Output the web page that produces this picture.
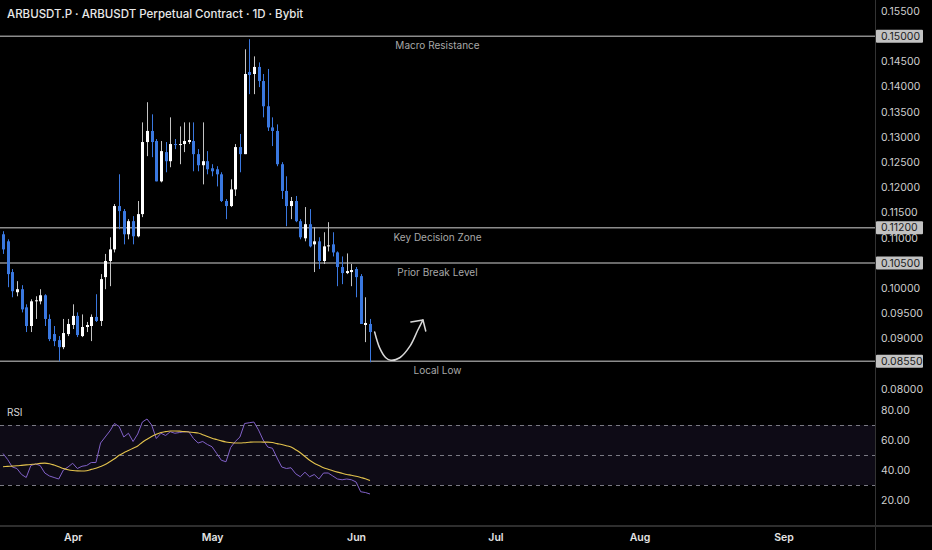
<!DOCTYPE html>
<html>
<head>
<meta charset="utf-8">
<script src="https://cdn.jsdelivr.net/npm/d3@7"></script>
<style>
  html, body { margin: 0; padding: 0; background: #000; }
  svg { display: block; font-family: Inter, "Noto Sans", sans-serif; }
</style>
</head>
<body>
<svg id="chart"></svg>
<script>
const title = "ARBUSDT.P · ARBUSDT Perpetual Contract · 1D · Bybit";

// daily candles, first one on 17 Mar
const firstDay = Date.UTC(2025, 2, 17);

const open = [0.1107,0.1093,0.1032,0.0992,0.0998,0.0962,0.0925,0.0974,0.0974,0.0986,
  0.0939,0.0909,0.0897,0.0883,0.0909,0.0927,0.0945,0.0905,0.0923,0.0925,
  0.0943,0.0935,0.1022,0.1054,0.1077,0.1163,0.1153,0.1107,0.1133,0.1103,
  0.1147,0.1290,0.1312,0.1292,0.1212,0.1270,0.1252,0.1286,0.1284,0.1286,
  0.1290,0.1292,0.1266,0.1244,0.1252,0.1238,0.1236,0.1226,0.1173,0.1163,
  0.1196,0.1280,0.1266,0.1429,0.1425,0.1439,0.1411,0.1361,0.1319,0.1312,
  0.1246,0.1193,0.1163,0.1173,0.1133,0.1099,0.1127,0.1087,0.1093,0.1054,
  0.1083,0.1087,0.1071,0.1042,0.1030,0.1032,0.1038,0.1024,0.0927,0.0929];

const high = [0.1113,0.1097,0.1038,0.1014,0.1006,0.0968,0.0978,0.0984,0.0998,0.0988,
  0.0948,0.0925,0.0905,0.0939,0.0939,0.0968,0.0952,0.0948,0.0933,0.0948,
  0.0988,0.1028,0.1068,0.1101,0.1167,0.1226,0.1157,0.1137,0.1143,0.1173,
  0.1329,0.1369,0.1345,0.1296,0.1292,0.1290,0.1339,0.1296,0.1321,0.1329,
  0.1329,0.1329,0.1276,0.1329,0.1272,0.1246,0.1242,0.1230,0.1177,0.1216,
  0.1286,0.1306,0.1474,0.1494,0.1460,0.1448,0.1425,0.1435,0.1339,0.1325,
  0.1250,0.1222,0.1181,0.1183,0.1137,0.1161,0.1157,0.1121,0.1101,0.1111,
  0.1131,0.1111,0.1073,0.1063,0.1069,0.1048,0.1042,0.1028,0.0982,0.0939];

const low = [0.1068,0.1002,0.0982,0.0984,0.0952,0.0913,0.0913,0.0939,0.0968,0.0925,
  0.0895,0.0885,0.0855,0.0879,0.0905,0.0919,0.0903,0.0903,0.0913,0.0895,
  0.0933,0.0925,0.0998,0.1004,0.1071,0.1117,0.1087,0.1097,0.1087,0.1101,
  0.1141,0.1262,0.1260,0.1212,0.1210,0.1230,0.1240,0.1276,0.1246,0.1270,
  0.1286,0.1232,0.1232,0.1206,0.1226,0.1222,0.1202,0.1171,0.1137,0.1161,
  0.1183,0.1230,0.1266,0.1385,0.1385,0.1399,0.1339,0.1312,0.1282,0.1242,
  0.1177,0.1123,0.1137,0.1131,0.1097,0.1093,0.1081,0.1032,0.1038,0.1048,
  0.1073,0.1063,0.1004,0.1008,0.1028,0.1004,0.0982,0.0929,0.0893,0.0853];

const close = [0.1077,0.1028,0.0994,0.0998,0.0958,0.0925,0.0974,0.0976,0.0986,0.0939,
  0.0899,0.0895,0.0883,0.0911,0.0929,0.0945,0.0907,0.0923,0.0927,0.0943,
  0.0935,0.1018,0.1054,0.1077,0.1163,0.1153,0.1107,0.1133,0.1103,0.1147,
  0.1290,0.1312,0.1290,0.1212,0.1272,0.1252,0.1286,0.1284,0.1286,0.1292,
  0.1294,0.1266,0.1244,0.1252,0.1236,0.1232,0.1226,0.1173,0.1163,0.1196,
  0.1280,0.1266,0.1425,0.1423,0.1439,0.1411,0.1361,0.1319,0.1312,0.1246,
  0.1193,0.1163,0.1173,0.1133,0.1101,0.1127,0.1083,0.1093,0.1054,0.1083,
  0.1085,0.1071,0.1042,0.1030,0.1034,0.1036,0.1022,0.0929,0.0931,0.0913];

const rsi = [51,47,42,41,37,35,43,44,43,38,
  36,35,34,40,42,44.5,41,42.5,43,45,
  45,58,62,66,71,69,62,64.5,59,64,
  72,74,70,61,64.5,63,65.5,64.5,65,65.5,
  65.5,61,58,59,57,55.5,51,46.5,45.5,55,
  59,62,71,71.5,72,66.7,60,55.3,54.5,48,
  42,41,41.5,37.5,35.5,38.5,35.5,37,34,38,
  38,36,34,33.5,34,33.5,32,25.5,25,24];

const rsiMa = [42.2,42.4,42.6,42.8,43.1,43.4,43.7,44.0,44.4,44.6,
  44.2,43.3,42.2,41.0,40.2,39.7,39.4,39.3,39.5,40.4,
  41.2,42.3,43.6,45.5,47.5,49.8,51.5,53.0,54.5,56.0,
  58.5,60.5,62.3,63.8,65.0,65.6,66.0,66.0,65.9,65.6,
  65.3,65.0,64.7,63.5,62.3,61.2,60.3,59.4,58.7,58.3,
  58.0,58.0,58.2,58.5,58.7,58.7,58.6,58.6,58.3,57.6,
  57.0,56.2,55.3,53.5,51.5,49.0,46.5,44.5,43.0,41.5,
  40.5,39.5,38.6,37.8,37.0,36.5,35.8,35.0,34.2,33.0];

const levels = [0.15, 0.112, 0.105, 0.0855];
const levelNames = ["Macro Resistance", "Key Decision Zone", "Prior Break Level", "Local Low"];

const priceTicks = [0.08, 0.09, 0.095, 0.10, 0.11, 0.115, 0.12, 0.125, 0.13, 0.135, 0.14, 0.145, 0.155];
const rsiTicks = [20, 40, 60, 80];
const rsiBands = [70, 50, 30];

// hand-drawn bounce arrow, in days since first candle and price
const arrowDays = [80.0, 81.1, 82.4, 83.5, 85.4, 87.6, 89.3, 90.4];
const arrowPrices = [0.0913, 0.0881, 0.0862, 0.0857, 0.0862, 0.0885, 0.0917, 0.0937];
const arrowHeadDays = [87.8, 90.4, 91.0];
const arrowHeadPrices = [0.0933, 0.0937, 0.0915];

const width = 932;
const height = 550;
const plotRight = 875;

const blue = "#3a78e0";
const white = "#ffffff";
const levelGray = "#8c8c8c";

const dayMs = 864e5;
const dates = d3.range(open.length).map(i => new Date(firstDay + i * dayMs));
const candles = dates.map((date, i) => ({
  date,
  open: open[i],
  high: high[i],
  low: low[i],
  close: close[i],
  rsi: rsi[i],
  ma: rsiMa[i]
}));

const x = d3
  .scaleUtc()
  .domain([dates[0], dates[dates.length - 1]])
  .range([3, 370]);

const y = d3
  .scaleLinear()
  .domain([0.08, 0.155])
  .range([389, 11]);

const yRsi = d3
  .scaleLinear()
  .domain([20, 80])
  .range([500, 410]);

const svg = d3
  .select("#chart")
  .attr("width", width)
  .attr("height", height)
  .style("background", "#000");

// title
svg
  .append("text")
  .attr("x", 7)
  .attr("y", 18)
  .attr("fill", "#e8e8e8")
  .attr("font-size", "11.5px")
  .attr("font-weight", 500)
  .text(title);

// ---- price pane
const levelLayer = svg.append("g").attr("class", "levels");

levelLayer
  .selectAll("line")
  .data(levels)
  .join("line")
  .attr("x1", 0)
  .attr("x2", plotRight)
  .attr("y1", d => y(d))
  .attr("y2", d => y(d))
  .attr("stroke", levelGray)
  .attr("stroke-width", 1.6);

levelLayer
  .selectAll("text")
  .data(levels)
  .join("text")
  .attr("x", plotRight / 2)
  .attr("y", d => y(d) + 13)
  .attr("text-anchor", "middle")
  .attr("fill", "#a8a8a8")
  .attr("font-size", "10px")
  .text((d, i) => levelNames[i]);

const candleLayer = svg.append("g").attr("class", "candles");
const up = d => d.close >= d.open;

candleLayer
  .selectAll("line")
  .data(candles)
  .join("line")
  .attr("x1", d => Math.round(x(d.date)) + 0.5)
  .attr("x2", d => Math.round(x(d.date)) + 0.5)
  .attr("y1", d => y(d.high))
  .attr("y2", d => y(d.low))
  .attr("stroke", d => (up(d) ? "#c4c4c4" : blue))
  .attr("stroke-width", 1);

candleLayer
  .selectAll("rect")
  .data(candles)
  .join("rect")
  .attr("x", d => Math.round(x(d.date)) - 1)
  .attr("width", 3)
  .attr("y", d => y(Math.max(d.open, d.close)))
  .attr("height", d => Math.max(1, Math.abs(y(d.open) - y(d.close))))
  .attr("fill", d => (up(d) ? white : blue));

// bounce arrow
const dayToDate = day => new Date(firstDay + day * dayMs);
const arrowLine = d3
  .line()
  .x(d => x(dayToDate(d[0])))
  .y(d => y(d[1]))
  .curve(d3.curveCatmullRom);

svg
  .append("path")
  .attr("d", arrowLine(d3.zip(arrowDays, arrowPrices)))
  .attr("fill", "none")
  .attr("stroke", "#d8d8d8")
  .attr("stroke-width", 1.5)
  .attr("stroke-linecap", "round");

svg
  .append("path")
  .attr("d", arrowLine.curve(d3.curveLinear)(d3.zip(arrowHeadDays, arrowHeadPrices)))
  .attr("fill", "none")
  .attr("stroke", "#d8d8d8")
  .attr("stroke-width", 1.5)
  .attr("stroke-linecap", "round")
  .attr("stroke-linejoin", "round");

// ---- RSI pane
svg
  .append("rect")
  .attr("x", 0)
  .attr("width", plotRight)
  .attr("y", yRsi(70))
  .attr("height", yRsi(30) - yRsi(70))
  .attr("fill", "#0e0b16");

svg
  .append("g")
  .selectAll("line")
  .data(rsiBands)
  .join("line")
  .attr("x1", 0)
  .attr("x2", plotRight)
  .attr("y1", d => yRsi(d) + 0.5)
  .attr("y2", d => yRsi(d) + 0.5)
  .attr("stroke", "#7a7a84")
  .attr("stroke-dasharray", "4,4");

svg
  .append("text")
  .attr("x", 7)
  .attr("y", 416)
  .attr("fill", "#d8d8d8")
  .attr("font-size", "10px")
  .text("RSI");

const maLine = d3
  .line()
  .x(d => x(d.date))
  .y(d => yRsi(d.ma))
  .curve(d3.curveMonotoneX);

const rsiLine = d3
  .line()
  .x(d => x(d.date))
  .y(d => yRsi(d.rsi));

svg
  .append("path")
  .attr("d", rsiLine(candles))
  .attr("fill", "none")
  .attr("stroke", "#8161c8")
  .attr("stroke-width", 1);

svg
  .append("path")
  .attr("d", maLine(candles))
  .attr("fill", "none")
  .attr("stroke", "#e3c34d")
  .attr("stroke-width", 1.1);

// ---- axes
svg
  .append("line")
  .attr("x1", plotRight + 0.5)
  .attr("x2", plotRight + 0.5)
  .attr("y1", 0)
  .attr("y2", height)
  .attr("stroke", "#333");

svg
  .append("line")
  .attr("x1", 0)
  .attr("x2", width)
  .attr("y1", 526)
  .attr("y2", 526)
  .attr("stroke", "#2e2e2e")
  .attr("stroke-width", 2);

const priceAxis = d3
  .axisRight(y)
  .tickValues(priceTicks)
  .tickFormat(d3.format(".5f"))
  .tickSize(0)
  .tickPadding(6);

const rsiAxis = d3
  .axisRight(yRsi)
  .tickValues(rsiTicks)
  .tickFormat(d3.format(".2f"))
  .tickSize(0)
  .tickPadding(6);

function styleAxis(g) {
  g.select(".domain").remove();
  g.selectAll("text")
    .attr("fill", "#cfcfcf")
    .attr("font-size", "10.5px")
    .attr("font-family", "Inter, 'Noto Sans', sans-serif");
}

svg
  .append("g")
  .attr("transform", `translate(${plotRight},0)`)
  .call(priceAxis)
  .call(styleAxis);

svg
  .append("g")
  .attr("transform", `translate(${plotRight},0)`)
  .call(rsiAxis)
  .call(styleAxis);

// highlighted level tags on the price scale
const tags = svg
  .append("g")
  .selectAll("g")
  .data(levels)
  .join("g")
  .attr("transform", d => `translate(${plotRight + 1},${y(d)})`);

tags
  .append("rect")
  .attr("x", 0)
  .attr("y", -6.5)
  .attr("width", 47)
  .attr("height", 13)
  .attr("rx", 1)
  .attr("fill", "#c2c2c2");

tags
  .append("text")
  .attr("x", 5)
  .attr("dy", "0.35em")
  .attr("fill", "#202020")
  .attr("font-size", "10.5px")
  .text(d => d3.format(".5f")(d));

const monthTicks = d3.utcMonth.range(new Date(Date.UTC(2025, 3, 1)), new Date(Date.UTC(2025, 8, 2)));

const timeAxis = d3
  .axisBottom(x)
  .tickValues(monthTicks)
  .tickFormat(d3.utcFormat("%b"))
  .tickSize(0)
  .tickPadding(7);

svg
  .append("g")
  .attr("transform", "translate(0,527)")
  .call(timeAxis)
  .call(g => g.select(".domain").remove())
  .call(g =>
    g
      .selectAll("text")
      .attr("fill", "#e4e4e4")
      .attr("font-size", "10.5px")
      .attr("font-weight", 600)
      .attr("font-family", "Inter, 'Noto Sans', sans-serif")
  );
</script>
</body>
</html>
